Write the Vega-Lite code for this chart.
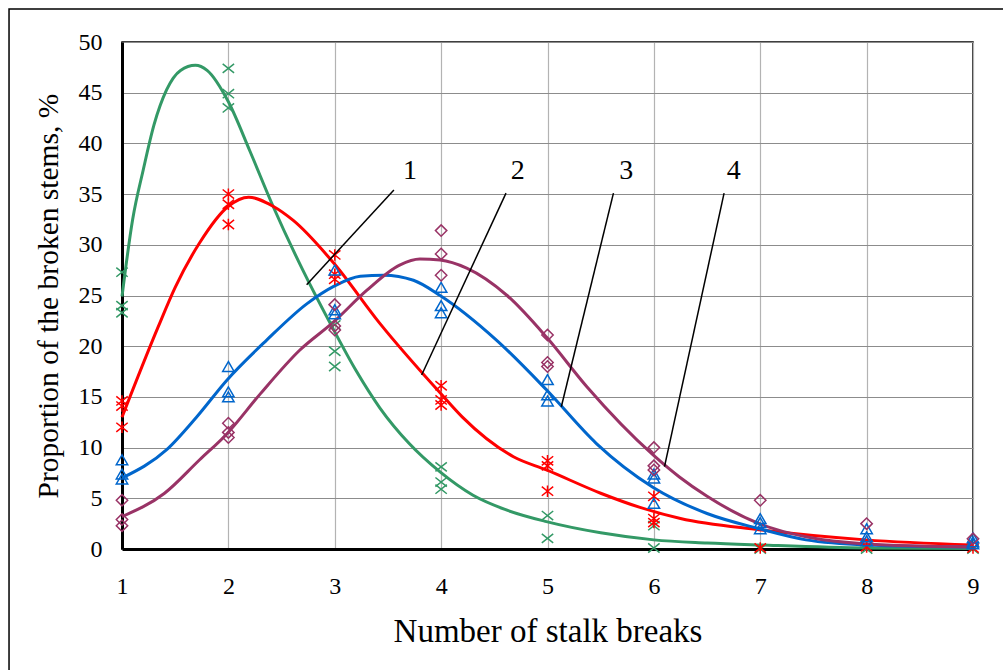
{
  "$schema": "https://vega.github.io/schema/vega-lite/v6.json",
  "width": 851,
  "height": 507,
  "autosize": {"type": "none"},
  "padding": {"left": 122, "top": 42, "right": 30, "bottom": 121},
  "background": "white",
  "config": {"view": {"stroke": "black", "strokeWidth": 1.5}, "font": "Liberation Serif"},
  "datasets": {
    "curves": [
      {"s": "1", "x": 1, "y": 24.9}, {"s": "1", "x": 1.1, "y": 32.5}, {"s": "1", "x": 1.2, "y": 37.4}, {"s": "1", "x": 1.3, "y": 41.8}, {"s": "1", "x": 1.42, "y": 45.3}, {"s": "1", "x": 1.55, "y": 47.2}, {"s": "1", "x": 1.69, "y": 47.7}, {"s": "1", "x": 1.8, "y": 47.2}, {"s": "1", "x": 2, "y": 44.1}, {"s": "1", "x": 2.2, "y": 39.3}, {"s": "1", "x": 2.42, "y": 33.8}, {"s": "1", "x": 2.7, "y": 27.5}, {"s": "1", "x": 2.955, "y": 22.3}, {"s": "1", "x": 3.2, "y": 17.6}, {"s": "1", "x": 3.425, "y": 13.9}, {"s": "1", "x": 3.7, "y": 10.4}, {"s": "1", "x": 3.99, "y": 7.6}, {"s": "1", "x": 4.3, "y": 5.3}, {"s": "1", "x": 4.6, "y": 3.9}, {"s": "1", "x": 4.99, "y": 2.7}, {"s": "1", "x": 5.5, "y": 1.6}, {"s": "1", "x": 6, "y": 0.9}, {"s": "1", "x": 6.5, "y": 0.6}, {"s": "1", "x": 7, "y": 0.4}, {"s": "1", "x": 8, "y": 0.1}, {"s": "1", "x": 9, "y": 0.05},
      {"s": "2", "x": 1, "y": 13.0}, {"s": "2", "x": 1.34, "y": 21.9}, {"s": "2", "x": 1.5, "y": 25.8}, {"s": "2", "x": 1.73, "y": 30.2}, {"s": "2", "x": 2, "y": 33.8}, {"s": "2", "x": 2.19, "y": 34.7}, {"s": "2", "x": 2.42, "y": 33.8}, {"s": "2", "x": 2.61, "y": 32.4}, {"s": "2", "x": 2.99, "y": 28.2}, {"s": "2", "x": 3.42, "y": 22.3}, {"s": "2", "x": 3.99, "y": 15.4}, {"s": "2", "x": 4.2, "y": 13.0}, {"s": "2", "x": 4.68, "y": 9.1}, {"s": "2", "x": 4.99, "y": 7.8}, {"s": "2", "x": 5.5, "y": 5.5}, {"s": "2", "x": 5.87, "y": 4.1}, {"s": "2", "x": 6.25, "y": 3.0}, {"s": "2", "x": 6.99, "y": 1.9}, {"s": "2", "x": 7.99, "y": 0.9}, {"s": "2", "x": 8.99, "y": 0.4},
      {"s": "3", "x": 1, "y": 7.0}, {"s": "3", "x": 1.42, "y": 9.8}, {"s": "3", "x": 1.7, "y": 13.0}, {"s": "3", "x": 1.99, "y": 16.7}, {"s": "3", "x": 2.36, "y": 20.6}, {"s": "3", "x": 2.74, "y": 24.2}, {"s": "3", "x": 2.99, "y": 25.9}, {"s": "3", "x": 3.24, "y": 26.9}, {"s": "3", "x": 3.46, "y": 27.0}, {"s": "3", "x": 3.74, "y": 26.5}, {"s": "3", "x": 3.99, "y": 25.0}, {"s": "3", "x": 4.52, "y": 20.6}, {"s": "3", "x": 4.99, "y": 15.7}, {"s": "3", "x": 5.46, "y": 10.4}, {"s": "3", "x": 5.99, "y": 6.1}, {"s": "3", "x": 6.5, "y": 3.5}, {"s": "3", "x": 6.99, "y": 2.0}, {"s": "3", "x": 7.43, "y": 0.9}, {"s": "3", "x": 8, "y": 0.4}, {"s": "3", "x": 9, "y": 0.2},
      {"s": "4", "x": 1, "y": 3.2}, {"s": "4", "x": 1.4, "y": 5.5}, {"s": "4", "x": 1.73, "y": 8.8}, {"s": "4", "x": 1.99, "y": 11.4}, {"s": "4", "x": 2.3, "y": 15.3}, {"s": "4", "x": 2.67, "y": 19.6}, {"s": "4", "x": 2.99, "y": 22.4}, {"s": "4", "x": 3.3, "y": 25.5}, {"s": "4", "x": 3.61, "y": 28.0}, {"s": "4", "x": 3.8, "y": 28.6}, {"s": "4", "x": 3.99, "y": 28.5}, {"s": "4", "x": 4.24, "y": 27.7}, {"s": "4", "x": 4.62, "y": 25.0}, {"s": "4", "x": 4.99, "y": 20.9}, {"s": "4", "x": 5.37, "y": 16.0}, {"s": "4", "x": 5.99, "y": 9.3}, {"s": "4", "x": 6.24, "y": 7.1}, {"s": "4", "x": 6.5, "y": 5.2}, {"s": "4", "x": 6.99, "y": 2.5}, {"s": "4", "x": 7.43, "y": 1.2}, {"s": "4", "x": 8, "y": 0.5}, {"s": "4", "x": 9, "y": 0.2}
    ],
    "points": [
      {"s": "1", "x": 1, "y": 27.3}, {"s": "1", "x": 1, "y": 24.0}, {"s": "1", "x": 1, "y": 23.3},
      {"s": "1", "x": 2, "y": 47.4}, {"s": "1", "x": 2, "y": 44.9}, {"s": "1", "x": 2, "y": 43.5},
      {"s": "1", "x": 3, "y": 22.1}, {"s": "1", "x": 3, "y": 19.5}, {"s": "1", "x": 3, "y": 18.0},
      {"s": "1", "x": 4, "y": 8.1}, {"s": "1", "x": 4, "y": 6.6}, {"s": "1", "x": 4, "y": 5.9},
      {"s": "1", "x": 5, "y": 3.3}, {"s": "1", "x": 5, "y": 1.05},
      {"s": "1", "x": 6, "y": 2.3}, {"s": "1", "x": 6, "y": 0.1},
      {"s": "1", "x": 7, "y": 0}, {"s": "1", "x": 8, "y": 0}, {"s": "1", "x": 9, "y": 0},
      {"s": "2", "x": 1, "y": 14.6}, {"s": "2", "x": 1, "y": 14.1}, {"s": "2", "x": 1, "y": 12.0},
      {"s": "2", "x": 2, "y": 35.0}, {"s": "2", "x": 2, "y": 34.0}, {"s": "2", "x": 2, "y": 32.0},
      {"s": "2", "x": 3, "y": 29.0}, {"s": "2", "x": 3, "y": 27.1}, {"s": "2", "x": 3, "y": 26.6},
      {"s": "2", "x": 4, "y": 16.1}, {"s": "2", "x": 4, "y": 14.7}, {"s": "2", "x": 4, "y": 14.2},
      {"s": "2", "x": 5, "y": 8.7}, {"s": "2", "x": 5, "y": 8.2}, {"s": "2", "x": 5, "y": 5.7},
      {"s": "2", "x": 6, "y": 5.2}, {"s": "2", "x": 6, "y": 3.0}, {"s": "2", "x": 6, "y": 2.6},
      {"s": "2", "x": 7, "y": 0.1}, {"s": "2", "x": 8, "y": 0.2}, {"s": "2", "x": 9, "y": 0.1},
      {"s": "3", "x": 1, "y": 8.8}, {"s": "3", "x": 1, "y": 7.4}, {"s": "3", "x": 1, "y": 6.9},
      {"s": "3", "x": 2, "y": 18.0}, {"s": "3", "x": 2, "y": 15.5}, {"s": "3", "x": 2, "y": 15.0},
      {"s": "3", "x": 3, "y": 27.5}, {"s": "3", "x": 3, "y": 23.6}, {"s": "3", "x": 3, "y": 23.2},
      {"s": "3", "x": 4, "y": 25.8}, {"s": "3", "x": 4, "y": 24.0}, {"s": "3", "x": 4, "y": 23.3},
      {"s": "3", "x": 5, "y": 16.7}, {"s": "3", "x": 5, "y": 15.2}, {"s": "3", "x": 5, "y": 14.6},
      {"s": "3", "x": 6, "y": 7.4}, {"s": "3", "x": 6, "y": 7.0}, {"s": "3", "x": 6, "y": 4.5},
      {"s": "3", "x": 7, "y": 3.0}, {"s": "3", "x": 7, "y": 2.6}, {"s": "3", "x": 7, "y": 2.0},
      {"s": "3", "x": 8, "y": 2.0}, {"s": "3", "x": 8, "y": 1.2}, {"s": "3", "x": 8, "y": 0.8},
      {"s": "3", "x": 9, "y": 1.1}, {"s": "3", "x": 9, "y": 0.7}, {"s": "3", "x": 9, "y": 0.5},
      {"s": "4", "x": 1, "y": 4.8}, {"s": "4", "x": 1, "y": 2.9}, {"s": "4", "x": 1, "y": 2.3},
      {"s": "4", "x": 2, "y": 12.4}, {"s": "4", "x": 2, "y": 11.5}, {"s": "4", "x": 2, "y": 11.0},
      {"s": "4", "x": 3, "y": 24.1}, {"s": "4", "x": 3, "y": 22.0}, {"s": "4", "x": 3, "y": 21.6},
      {"s": "4", "x": 4, "y": 31.4}, {"s": "4", "x": 4, "y": 29.1}, {"s": "4", "x": 4, "y": 27.0},
      {"s": "4", "x": 5, "y": 21.1}, {"s": "4", "x": 5, "y": 18.4}, {"s": "4", "x": 5, "y": 18.0},
      {"s": "4", "x": 6, "y": 10.0}, {"s": "4", "x": 6, "y": 8.2}, {"s": "4", "x": 6, "y": 7.8},
      {"s": "4", "x": 7, "y": 4.8}, {"s": "4", "x": 8, "y": 2.5}, {"s": "4", "x": 9, "y": 1.0}
    ],
    "leaders": [
      {"label": "1", "x": 3.556, "y": 35.4, "x2": 2.736, "y2": 26.07, "lx": 3.707, "ly": 37.3},
      {"label": "2", "x": 4.61, "y": 35.1, "x2": 3.817, "y2": 17.16, "lx": 4.72, "ly": 37.3},
      {"label": "3", "x": 5.62, "y": 35.1, "x2": 5.13, "y2": 14.03, "lx": 5.74, "ly": 37.3},
      {"label": "4", "x": 6.66, "y": 35.1, "x2": 6.10, "y2": 8.12, "lx": 6.75, "ly": 37.3}
    ]
  },
  "layer": [
    {
      "data": {"values": [{}]},
      "mark": {"type": "rect", "filled": false, "color": "black", "strokeWidth": 1.5, "clip": false},
      "encoding": {
        "x": {"datum": -0.062, "type": "quantitative"},
        "x2": {"datum": 9.6},
        "y": {"datum": 53.25, "type": "quantitative"},
        "y2": {"datum": -14}
      }
    },
    {
      "data": {"name": "curves"},
      "mark": {"type": "line", "interpolate": "monotone", "strokeWidth": 3},
      "encoding": {
        "x": {
          "field": "x", "type": "quantitative",
          "scale": {"domain": [1, 9], "nice": false, "zero": false},
          "axis": {
            "values": [1, 2, 3, 4, 5, 6, 7, 8, 9], "format": "d",
            "grid": true, "gridColor": "#b3b3b3", "gridWidth": 1.2,
            "domainColor": "black", "domainWidth": 3, "ticks": false,
            "labelFont": "Liberation Serif", "labelFontSize": 24, "labelColor": "black",
            "labelPadding": 25, "labelFlush": false, "labelOverlap": false,
            "title": "Number of stalk breaks", "titleFont": "Liberation Serif",
            "titleFontSize": 33, "titleFontWeight": "normal", "titleColor": "black", "titlePadding": 17
          }
        },
        "y": {
          "field": "y", "type": "quantitative",
          "scale": {"domain": [0, 50], "nice": false},
          "axis": {
            "values": [0, 5, 10, 15, 20, 25, 30, 35, 40, 45, 50],
            "grid": true, "gridColor": "#8c8c8c", "gridWidth": 1.2,
            "domainColor": "black", "domainWidth": 3, "ticks": false,
            "labelFont": "Liberation Serif", "labelFontSize": 24, "labelColor": "black",
            "labelPadding": 20, "labelFlush": false, "labelOverlap": false,
            "title": "Proportion of the broken stems, %", "titleFont": "Liberation Serif",
            "titleFontSize": 29.5, "titleFontWeight": "normal", "titleColor": "black", "titlePadding": 15
          }
        },
        "color": {
          "field": "s", "type": "nominal",
          "scale": {"domain": ["1", "2", "3", "4"], "range": ["#339966", "#ff0000", "#0066cc", "#993366"]},
          "legend": null
        }
      }
    },
    {
      "data": {"name": "points"},
      "mark": {"type": "point", "filled": false, "strokeWidth": 1.5, "size": 130, "opacity": 1},
      "encoding": {
        "x": {"field": "x", "type": "quantitative"},
        "y": {"field": "y", "type": "quantitative"},
        "color": {"field": "s", "type": "nominal", "legend": null},
        "shape": {
          "field": "s", "type": "nominal",
          "scale": {"domain": ["1", "2", "3", "4"], "range": ["M-1,-0.8L1,0.8M-1,0.8L1,-0.8", "M-1,-0.8L1,0.8M-1,0.8L1,-0.8M0,-1L0,1", "triangle-up", "diamond"]},
          "legend": null
        }
      }
    },
    {
      "data": {"name": "leaders"},
      "mark": {"type": "rule", "color": "black", "strokeWidth": 1.5},
      "encoding": {
        "x": {"field": "x", "type": "quantitative"},
        "y": {"field": "y", "type": "quantitative"},
        "x2": {"field": "x2"},
        "y2": {"field": "y2"}
      }
    },
    {
      "data": {"name": "leaders"},
      "mark": {"type": "text", "font": "Liberation Serif", "fontSize": 28, "color": "black", "align": "center", "baseline": "middle"},
      "encoding": {
        "x": {"field": "lx", "type": "quantitative"},
        "y": {"field": "ly", "type": "quantitative"},
        "text": {"field": "label"}
      }
    }
  ]
}
